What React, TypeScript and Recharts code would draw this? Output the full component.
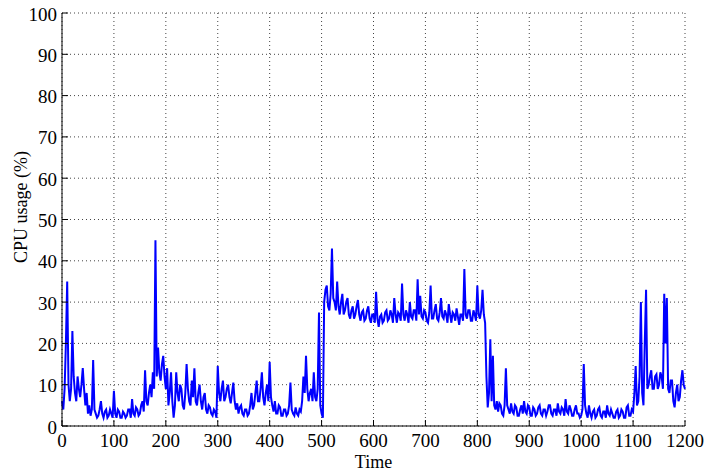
import React from 'react';
import { LineChart, Line, XAxis, YAxis, CartesianGrid } from 'recharts';

const TIME_STEP = 2.5;
const xTicks = [0, 100, 200, 300, 400, 500, 600, 700, 800, 900, 1000, 1100, 1200];
const yTicks = [0, 10, 20, 30, 40, 50, 60, 70, 80, 90, 100];

const cpuUsage: number[] = [
  // 0 - 47.5
  6, 4, 9, 20, 35, 10, 6, 9, 23, 12,
  8, 6, 12, 9, 7, 10, 14, 9, 5, 8,
  // 50 - 97.5
  3, 5, 2.5, 4, 16, 4, 3, 2, 2.5, 4,
  6, 3, 2, 3.5, 4, 2, 2.5, 4, 3, 2,
  // 100 - 147.5
  8.5, 3, 2, 4, 3.5, 2, 2, 3.5, 3, 2,
  2.5, 4, 4, 2, 6.5, 3, 2.5, 4.5, 4, 2.5,
  // 150 - 197.5
  3, 5, 6, 3.5, 13.5, 6, 5, 8, 10, 7,
  13, 9, 45, 12, 19, 13, 11, 15, 17, 12,
  // 200 - 247.5
  9, 14, 5, 8, 13, 6, 2, 5, 13, 8,
  6, 10, 9, 5, 4, 8, 15, 9, 6, 5,
  // 250 - 297.5
  11, 7, 14, 6, 5, 8, 10, 6, 4, 7,
  8, 4, 3, 5, 4.5, 3, 2.5, 4, 3.5, 2,
  // 300 - 347.5
  14.5, 8, 6, 9, 11, 6, 7, 9, 10, 7,
  5.5, 8, 10.5, 6, 4, 5.5, 3, 4.5, 5, 3,
  // 350 - 397.5
  2.5, 4, 4, 2.5, 3, 5, 8, 4, 5, 8,
  11, 6, 6, 9, 13, 7, 5, 8, 10, 6,
  // 400 - 447.5
  15.5, 7, 5, 3.5, 6, 3, 3, 5, 4.5, 2.5,
  2.5, 4, 4, 2.5, 3, 5, 10.5, 4, 3, 2.5,
  // 450 - 497.5
  4.5, 3, 2.5, 4, 3.5, 6, 12, 8, 17, 9,
  6, 8, 9, 6, 13, 7, 6, 9, 27.5, 5,
  // 500 - 547.5
  3, 2, 30, 33, 34, 29, 28, 32, 43, 31,
  30, 28, 35, 29, 27, 30, 32, 27, 28, 30,
  // 550 - 597.5
  31, 27, 26, 28, 29, 26, 27, 29, 30.5, 27,
  25.5, 27.5, 28, 25.5, 26, 28, 29, 26, 25, 27,
  // 600 - 647.5
  27, 25, 32.5, 26, 24, 26.5, 27, 25, 25.5, 27.5,
  28, 25.5, 26, 28, 27, 25, 31, 27, 25, 27.5,
  // 650 - 697.5
  27, 25.5, 34.5, 27, 25.5, 28, 27, 25, 30, 26.5,
  26, 28, 28, 25.5, 35.5, 27, 31.5, 26.5, 26, 28,
  // 700 - 747.5
  27.5, 25.5, 25, 27.5, 34, 26, 26, 28, 29.5, 26,
  25.5, 27.5, 31, 26.5, 26, 28, 27, 25, 29.5, 27,
  // 750 - 797.5
  25, 27.5, 27, 25.5, 28.5, 26.5, 24.5, 27, 27, 25.5,
  38, 27, 26, 28, 28, 25.5, 25.5, 28, 27, 25.5,
  // 800 - 847.5
  34, 27, 26, 28, 33, 27, 25, 12, 4.5, 8,
  21, 6, 17, 5, 4, 6, 3.5, 5.5, 5, 3,
  // 850 - 897.5
  2.5, 5, 14, 5, 4, 3, 5.5, 3.5, 3, 5,
  4.5, 2.5, 2.5, 4, 5, 3, 6, 3.5, 3, 5,
  // 900 - 947.5
  4.5, 2.5, 2.5, 4.5, 4, 2.5, 3, 4.5, 5, 3,
  2.5, 4, 4, 2.5, 3.5, 5, 5, 3, 2.5, 4,
  // 950 - 997.5
  4, 2.5, 5.5, 3.5, 3, 4.5, 4, 2.5, 6.5, 3.5,
  3, 5, 4, 2.5, 2.5, 4, 5, 3, 3, 2,
  // 1000 - 1047.5
  2.5, 4, 15, 5, 3, 2, 5, 3, 2, 3.5,
  4, 2, 2.5, 4, 4.5, 2.5, 2, 3.5, 3.5, 2,
  // 1050 - 1097.5
  5, 3, 2.5, 4, 3, 2, 2, 3.5, 4, 2,
  2.5, 4, 3.5, 2, 2, 4.5, 5, 2.5, 2.5, 4,
  // 1100 - 1147.5
  3.5, 8, 14.5, 5, 6, 12, 30, 8, 5, 20,
  33, 9, 10, 12, 13.5, 9, 9, 12, 12.5, 9,
  // 1150 - 1197.5
  10, 13, 12, 9, 32, 20, 31, 9, 8, 11,
  11, 6, 4.5, 8, 10, 6, 7, 11, 13.5, 10,
  // 1200
  9,
];

const data = cpuUsage.map((v, i) => ({ t: i * TIME_STEP, v }));

const FONT = '"Liberation Serif", "Times New Roman", serif';
const TICK_LEN = 6;

const BottomTick = (props: any) => {
  const { x, y, payload } = props;
  return (
    <g>
      <line x1={x} y1={y} x2={x} y2={y - TICK_LEN} stroke="#000" strokeWidth={1} />
      <text x={x} y={y + 14} textAnchor="middle" dominantBaseline="central" fontFamily={FONT} fontSize={19} fill="#000">
        {payload.value}
      </text>
    </g>
  );
};

const TopTick = (props: any) => {
  const { x, y } = props;
  return <line x1={x} y1={y} x2={x} y2={y + TICK_LEN} stroke="#000" strokeWidth={1} />;
};

const LeftTick = (props: any) => {
  const { x, y, payload } = props;
  return (
    <g>
      <line x1={x} y1={y} x2={x + TICK_LEN} y2={y} stroke="#000" strokeWidth={1} />
      <text x={x - 5} y={y + 1} textAnchor="end" dominantBaseline="central" fontFamily={FONT} fontSize={19} fill="#000">
        {payload.value}
      </text>
    </g>
  );
};

const RightTick = (props: any) => {
  const { x, y } = props;
  return <line x1={x} y1={y} x2={x - TICK_LEN} y2={y} stroke="#000" strokeWidth={1} />;
};

const XLabel = (props: any) => {
  const vb = props.viewBox || { x: 62, y: 426, width: 623, height: 48 };
  return (
    <text x={vb.x + vb.width / 2} y={vb.y + 42} textAnchor="middle" fontFamily={FONT} fontSize={18} fill="#000">
      Time
    </text>
  );
};

const YLabel = () => (
  <text x={27} y={207} transform="rotate(-90, 27, 207)" textAnchor="middle" fontFamily={FONT} fontSize={18} fill="#000">
    CPU usage (%)
  </text>
);

export default function App() {
  return (
    <div style={{ position: 'absolute', left: 0, top: 0, background: '#fff' }}>
      <LineChart width={705} height={474} data={data} margin={{ top: 13, right: 20, bottom: 0, left: 0 }}>
        <CartesianGrid stroke="#444" strokeDasharray="1 3" strokeWidth={1} />
        <XAxis
          dataKey="t"
          type="number"
          domain={[0, 1200]}
          ticks={xTicks}
          interval={0}
          height={48}
          tickSize={0}
          tickMargin={0}
          tickLine={false}
          axisLine={{ stroke: '#000' }}
          tick={<BottomTick />}
          label={<XLabel />}
        />
        <XAxis
          xAxisId="top"
          orientation="top"
          dataKey="t"
          type="number"
          domain={[0, 1200]}
          ticks={xTicks}
          interval={0}
          height={0}
          tickSize={0}
          tickMargin={0}
          tickLine={false}
          axisLine={{ stroke: '#000' }}
          tick={<TopTick />}
        />
        <YAxis
          type="number"
          domain={[0, 100]}
          ticks={yTicks}
          interval={0}
          width={62}
          tickSize={0}
          tickMargin={0}
          tickLine={false}
          axisLine={{ stroke: '#000' }}
          tick={<LeftTick />}
          label={<YLabel />}
        />
        <YAxis
          yAxisId="right"
          orientation="right"
          type="number"
          domain={[0, 100]}
          ticks={yTicks}
          interval={0}
          width={0}
          tickSize={0}
          tickMargin={0}
          tickLine={false}
          axisLine={{ stroke: '#000' }}
          tick={<RightTick />}
        />
        <Line
          type="linear"
          dataKey="v"
          stroke="#0000ff"
          strokeWidth={2}
          dot={false}
          isAnimationActive={false}
        />
      </LineChart>
    </div>
  );
}
